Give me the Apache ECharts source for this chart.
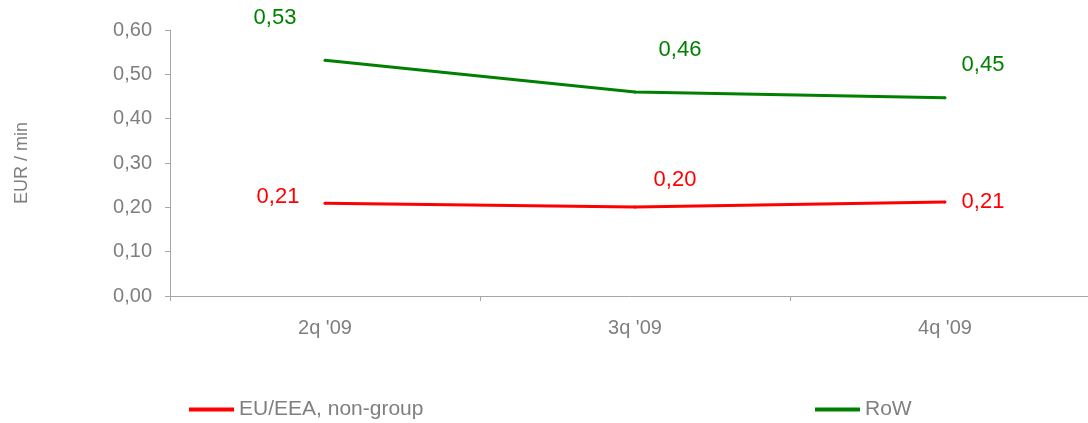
<!DOCTYPE html>
<html>
<head>
<meta charset="utf-8">
<script src="https://cdn.jsdelivr.net/npm/echarts@6/dist/echarts.min.js"></script>
<style>
  html, body { margin: 0; padding: 0; background: #fff; }
  #chart { width: 1088px; height: 423px; }
</style>
</head>
<body>
<div id="chart"></div>
<script>
const categories = ["2q '09", "3q '09", "4q '09"]
const euValues = [0.209, 0.201, 0.212]
const rowValues = [0.532, 0.46, 0.447]
const euLabels = ['0,21', '0,20', '0,21']
const rowLabels = ['0,53', '0,46', '0,45']
// label offsets (px) for each point, picked to sit where the original puts them
const euOffsets = [[-47, -6], [40, -27], [38, 0]]
const rowOffsets = [[-50, -42], [45, -42], [38, -33]]

const grey = '#7f7f7f'
const font = 'Liberation Sans, Arial, sans-serif'

const points = (vals, labels, offs, color) => vals.map((v, i) => ({
  value: v,
  label: {
    show: true,
    position: 'inside',
    offset: offs[i],
    formatter: labels[i],
    color: color,
    fontSize: 22,
    fontFamily: font
  }
}))

const chart = echarts.init(document.getElementById('chart'))
const fmt = v => v.toFixed(2).replace('.', ',')

const legendBase = {
  top: 399, padding: 0, icon: 'rect', itemWidth: 45, itemHeight: 4, itemGap: 5,
  textStyle: { color: grey, fontSize: 21, fontFamily: font }
}

chart.setOption({
  animation: false,
  grid: { left: 170, top: 30, width: 930, height: 266, outerBoundsMode: 'none' },
  legend: [
    Object.assign({ data: ['EU/EEA, non-group'], left: 189 }, legendBase),
    Object.assign({ data: ['RoW'], left: 815 }, legendBase)
  ],
  xAxis: {
    type: 'category',
    data: categories,
    boundaryGap: true,
    axisLine: { lineStyle: { color: '#a6a6a6', width: 1 } },
    axisTick: { show: true, length: 5, lineStyle: { color: '#a6a6a6' } },
    axisLabel: { color: grey, fontSize: 20, fontFamily: font, margin: 22 }
  },
  yAxis: {
    type: 'value',
    min: 0, max: 0.6, interval: 0.1,
    name: 'EUR / min',
    nameLocation: 'middle',
    nameGap: 139,
    nameTextStyle: { color: grey, fontSize: 18, fontFamily: font },
    axisLine: { show: true, lineStyle: { color: '#a6a6a6', width: 1 } },
    axisTick: { show: true, length: 5, lineStyle: { color: '#a6a6a6' } },
    splitLine: { show: false },
    axisLabel: { color: grey, fontSize: 20, fontFamily: font, margin: 18, formatter: fmt }
  },
  series: [
    {
      name: 'EU/EEA, non-group',
      type: 'line',
      data: points(euValues, euLabels, euOffsets, '#ff0000'),
      symbol: 'circle', symbolSize: 3,
      itemStyle: { color: '#ff0000' },
      lineStyle: { color: '#ff0000', width: 3 }
    },
    {
      name: 'RoW',
      type: 'line',
      data: points(rowValues, rowLabels, rowOffsets, '#008000'),
      symbol: 'circle', symbolSize: 3,
      itemStyle: { color: '#008000' },
      lineStyle: { color: '#008000', width: 3 }
    }
  ]
})
</script>
</body>
</html>
